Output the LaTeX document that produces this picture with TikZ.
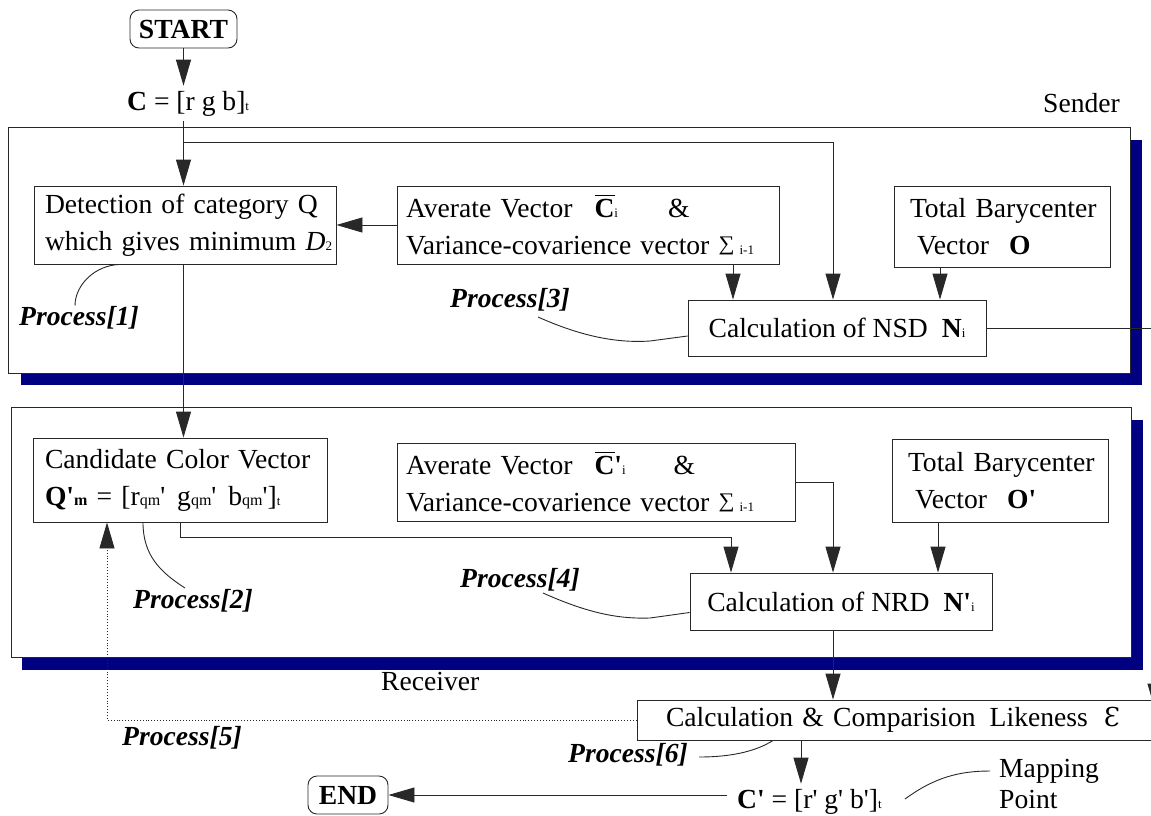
\documentclass[tikz,border=0pt]{standalone}
\usepackage{fontspec}
\usepackage{graphicx}
\setmainfont{Liberation Serif}
\newfontfamily\dvs{DejaVu Serif}
\usetikzlibrary{arrows.meta,calc}
\definecolor{shadownavy}{RGB}{0,0,128}
\definecolor{lnc}{RGB}{40,40,40}
\newcommand\fz{\fontsize{27.6}{37}\selectfont}
\newcommand\sbs[1]{{\fontsize{13}{13}\selectfont #1}}
\newcommand\sbq[1]{{\fontsize{16}{16}\selectfont #1}}
\newcommand\lft[1]{\makebox[0pt][l]{#1}}
\newcommand\aq{\textquotesingle}
\newcommand\cbar{\makebox[0pt][l]{\rule[21pt]{20pt}{1.3pt}}\textbf{C}}
\newcommand\sumsym{\raisebox{\depth}{\resizebox*{16pt}{18pt}{∑}}}
\begin{document}
\begin{tikzpicture}[x=1pt,y=-1pt,font=\fz,
  box/.style={draw=lnc,line width=0.9pt,fill=white,inner ysep=0pt},
  lbox/.style={box,align=left},
  arr/.style={draw=lnc,line width=0.9pt,-{Triangle[length=26pt,width=15pt]}},
  conn/.style={draw=lnc,line width=0.9pt},
  lbl/.style={inner sep=0pt,anchor=base west},
  proc/.style={lbl,font=\fz\bfseries\itshape},
  term/.style={draw=lnc,line width=0.9pt,rounded corners=9pt,font=\fz\bfseries,minimum width=107pt,minimum height=38pt,inner sep=0pt},
  outer/.style={draw=lnc,line width=0.9pt,fill=white,inner sep=0pt}]
\useasboundingbox (0,0) rectangle (1151,815);
\clip (0,0) rectangle (1151,815);
\fill[white] (0,0) rectangle (1151,815);

% frames with shadows
\fill[shadownavy] (21,140) rectangle (1142,385);
\node[outer,minimum width=1122pt,minimum height=246pt] (sender) at (569,250) {};
\fill[shadownavy] (22,420) rectangle (1143,670);
\node[outer,minimum width=1120pt,minimum height=250pt] (receiver) at (571,532) {};

% terminals and free texts
\node[term] (start) at (183.5,29) {START};
\node[lbl,inner ysep=5pt] (cvec) at (127,110) {\textbf{C} = [r g b]\sbs{t}};
\node[lbl] (sl) at (1043,112) {Sender};
\node[lbl] (rl) at (381,690) {Receiver};

% sender boxes
\node[lbox,inner xsep=11pt,text width=280pt,minimum height=78pt] (det) at (185,225)
  {\lft{Detection of category Q}\\\lft{which gives minimum \textit{D}\sbs{2}}};
\node[lbox,inner xsep=9pt,text width=364pt,minimum height=78pt] (avg) at (588,225)
  {\lft{Averate Vector\hspace{22pt}\cbar\sbs{i}\hspace{50pt}\&}\\\lft{Variance-covarience vector \sumsym\hspace{5pt}\sbs{i-1}}};
\node[lbox,inner xsep=16pt,text width=184pt,minimum height=81pt] (bary) at (1002,226.5)
  {\lft{Total Barycenter}\\\lft{\hspace{7pt}Vector\hspace{20pt}\textbf{O}}};
\node[box,minimum width=298pt,minimum height=56pt] (nsd) at (837,328)
  {Calculation of NSD\hspace{14pt}\textbf{N}\sbs{i}};

% receiver boxes
\node[lbox,inner xsep=12pt,text width=270pt,minimum height=84pt] (cand) at (180,480)
  {\lft{Candidate Color Vector}\\\lft{\textbf{Q\aq}{\fontsize{16}{16}\selectfont\bfseries m} = [r\sbq{qm}\aq\hspace{12pt}g\sbq{qm}\aq\hspace{12pt}b\sbq{qm}\aq]\sbs{t}}};
\node[lbox,inner xsep=9pt,text width=380pt,minimum height=78pt] (avg2) at (596,482)
  {\lft{Averate Vector\hspace{22pt}\cbar\textbf{\aq}\sbs{i}\hspace{48pt}\&}\\\lft{Variance-covarience vector \sumsym\hspace{5pt}\sbs{i-1}}};
\node[lbox,inner xsep=16pt,text width=184pt,minimum height=83pt] (bary2) at (1000,480.5)
  {\lft{Total Barycenter}\\\lft{\hspace{7pt}Vector\hspace{20pt}\textbf{O\aq}}};
\node[box,minimum width=302pt,minimum height=57pt] (nrd) at (841,601.5)
  {Calculation of NRD\hspace{14pt}\textbf{N\aq}\sbs{i}};

% bottom part
\node[lbox,inner xsep=29pt,text width=485pt,minimum height=40pt] (comp) at (908.5,720)
  {\lft{Calculation \& Comparision\hspace{14pt}Likeness\hspace{16pt}{\dvs\fontsize{26}{26}\selectfont Ɛ}}};
\node[term,minimum width=80pt] (end) at (348,795) {END};
\node[lbl,inner ysep=5pt,inner xsep=10pt] (cp) at (727,808) {\textbf{C\aq} = [r\aq{} g\aq{} b\aq]\sbs{t}};
\node[lbl] (map) at (999,777) {Mapping};
\node[lbl] (pt) at (999,808) {Point};

% process labels
\node[proc] (p1) at (19,325) {Process[1]};
\node[proc] (p2) at (133,608) {Process[2]};
\node[proc] (p3) at (450,307) {Process[3]};
\node[proc] (p4) at (460,587) {Process[4]};
\node[proc] (p5) at (122,745) {Process[5]};
\node[proc] (p6) at (568,762) {Process[6]};

% helper coordinates
\coordinate (xm) at (833,0);
\coordinate (xa) at (733,0);
\coordinate (xb) at (940,0);
\coordinate (xb2) at (938,0);
\coordinate (xq) at (731,0);
\coordinate (xr) at (1155,0);
\coordinate (xd) at (107,0);
\coordinate (xe) at (801,0);
\coordinate (j1) at (183.5,142);
\coordinate (j2) at (180,537);

% connectors
\draw[arr] (start.south) -- (start.south |- cvec.north);
\draw[arr] (cvec.south -| start) -- (det.north -| start);
\draw[arr] (j1) -| (nsd.north -| xm);
\draw[arr] (avg.west) -- (det.east);
\draw[arr] (avg.south -| xa) -- (nsd.north -| xa);
\draw[arr] (bary.south -| xb) -- (nsd.north -| xb);
\draw[arr] (nsd.east) -| ($(comp.north -| xr)+(0,10)$);
\draw[arr] (det.south -| start) -- (cand.north -| start);
\draw[arr] (cand.south -| j2) -- (j2) -| (nrd.north -| xq);
\draw[arr] (avg2.east) -| (nrd.north -| xm);
\draw[arr] (bary2.south -| xb2) -- (nrd.north -| xb2);
\draw[arr] (nrd.south -| xm) -- (comp.north -| xm);
\draw[arr,dotted] (comp.west) -| (cand.south -| xd);
\draw[arr] (comp.south -| xe) -- (cp.north -| xe);
\draw[arr] (end.east -| cp.west) -- (end.east);

% annotation curves
\coordinate (k1) at (120,0);
\draw[conn] (det.south -| k1) .. controls (95,265) and (75,285) .. (p1.north -| 75,0);
\coordinate (k2) at (143,0);
\draw[conn] (cand.south -| k2) .. controls (143,555) and (160,572) .. (185,588);
\coordinate (k3) at (538,317);
\draw[conn] (k3) .. controls (585,338) and (620,343) .. (650,341) -- ($(nsd.west)+(0,8)$);
\coordinate (k4) at (543,593);
\draw[conn] (k4) .. controls (590,614) and (620,619) .. (650,618) -- ($(nrd.west)+(0,11)$);
\coordinate (k6) at (699,757);
\coordinate (k6b) at (773,0);
\draw[conn] (k6) .. controls (735,757) and (758,750) .. (comp.south -| k6b);
\coordinate (k7) at (905,799);
\draw[conn] (k7) .. controls (935,777) and (960,771) .. (990,771);
\end{tikzpicture}
\end{document}
